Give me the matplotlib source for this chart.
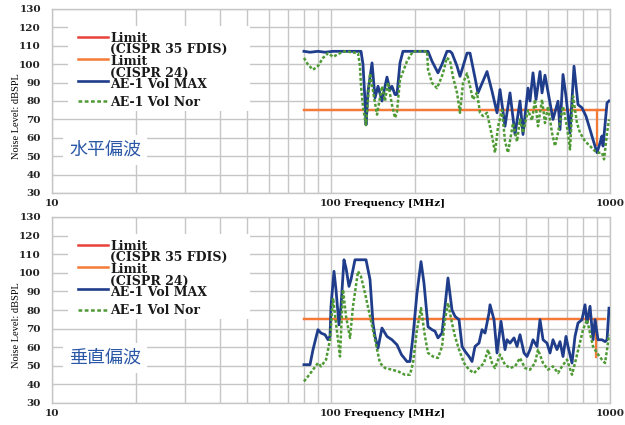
import matplotlib
matplotlib.use("Agg")
import matplotlib.pyplot as plt
from matplotlib.lines import Line2D
from matplotlib.patches import Rectangle
from matplotlib.ticker import FixedLocator, NullFormatter

# ---------------- data ----------------
# Top panel (水平偏波)
h_max_f = [80, 84.1, 89.8, 95.2, 101.7, 113.2, 125.0, 128.1, 130.2, 132.4, 133.5, 135.7,
           140.3, 143.8, 147.4, 152.3, 158.7, 162.7, 165.4, 169.6, 172.4, 176.7, 181.1,
           222.7, 230.2, 241.8, 250.0, 260.4, 267.0, 271.4, 282.9, 290.0, 307.3, 315.0,
           328.2, 336.4, 362.4, 377.7, 393.6, 403.4, 420.4, 438.1, 456.6, 475.8, 487.7,
           508.3, 516.8, 529.7, 543.0, 561.2, 570.6, 584.8, 609.5, 624.7, 651.1, 661.9,
           678.5, 695.5, 718.9, 743.0, 768.0, 793.8, 820.4, 848, 869.3, 898.5, 921,
           936, 944.2, 975.9, 991.8]
h_max_db = [107, 106.5, 107, 106.5, 107, 107, 107, 107, 100, 80, 67, 85,
            100.7, 81.7, 88, 80, 93, 86, 88, 83.5, 83.5, 100.7, 107,
            107, 101.6, 95.3, 100, 107, 107, 106, 99, 93.4, 106, 106,
            92.6, 84.4, 96, 85.3, 73.6, 86.2, 66.3, 84.4, 61.8, 80, 61.8,
            87, 80, 95.3, 80.8, 96, 84.4, 94, 79, 70, 79.9, 64.5,
            94.4, 82.6, 62.7, 98.9, 78, 76.3, 71.7, 64.5, 59, 51.9, 57.3,
            61, 55.5, 79, 80]

h_nor_f = [80, 82.7, 86.2, 89.8, 93.6, 97.6, 101.7, 107.7, 112.2, 125.0, 127.0, 128.1,
           130.2, 132.4, 133.5, 138.0, 146.2, 152.3, 156.1, 160, 165.4, 169.6, 172.4,
           176.7, 187.2, 196.7, 221, 222.7, 230.2, 239.8, 246, 252, 260, 267.0, 273.7,
           283, 290.0, 297.3, 307.3, 315.0, 322.8, 333.6, 342, 350.6, 362.4, 377.7,
           387.1, 396.8, 410.2, 420.4, 431.0, 449.1, 464.2, 475.8, 487.7, 508.3, 525.3,
           538.5, 552.0, 570.6, 584.8, 599.5, 619.6, 635.1, 651.1, 678.5, 701.3, 718.9,
           736.9, 761.7, 780.8, 813.7, 848, 883.8, 906, 936, 952, 975.9, 991.8]
h_nor_db = [103.4, 99.8, 97, 99, 103.4, 106, 104, 106, 107, 106, 99, 88,
            77, 70, 67, 95, 72.6, 88, 80, 90, 78, 70.8, 74,
            91.6, 101.6, 107, 107, 97, 89.8, 87, 91, 95, 103.5, 102, 93,
            84.4, 73.6, 89.8, 95, 88, 80.8, 84.5, 73.6, 71.8, 73.6, 60.9,
            51.9, 66, 75, 58.2, 51.9, 68, 58, 70, 62.7, 75, 69.5,
            80.8, 66.3, 80.8, 68, 77, 62.7, 55.5, 62.7, 77, 66, 53.7,
            82.6, 68, 62.7, 58.2, 55.5, 52.8, 51.9, 51.9, 48.3, 62.7, 70]

# Bottom panel (垂直偏波)
v_max_f = [80, 84.1, 86.2, 89.8, 92.1, 95.2, 97.6, 99.2, 100, 102.5, 104.2, 106.8,
           108.6, 111.3, 113.2, 116.0, 117.9, 121.9, 133.5, 138.0, 141.4, 143.8, 147.4,
           152.3, 158.7, 165.4, 172.4, 178.9, 187.2, 191.9, 196.7, 203.3, 210.2, 215.4,
           222.7, 230.2, 235.9, 241.8, 250.0, 256.2, 262.6, 271.4, 278.3, 287.6, 295,
           302.2, 312.4, 320.2, 328.2, 339.2, 347.8, 356.5, 368.4, 371.5, 383.9, 393.6,
           406.8, 420.4, 427.4, 438.1, 452.8, 464.2, 475.8, 491.8, 504.1, 516.8, 529.7,
           547.5, 561.2, 575.4, 594.6, 609.5, 624.7, 645.7, 661.9, 678.5, 695.5, 707.1,
           730.8, 749.2, 768.0, 793.8, 813.7, 827.2, 848, 869.3, 883.8, 906, 936,
           959.9, 975.9, 991.8]
v_max_db = [50.6, 50.6, 58.7, 69.4, 67.6, 66.7, 64, 66, 82, 100.8, 91, 72,
            82, 107, 102.6, 92.7, 96.3, 107, 107, 96.3, 73, 65.8, 59.5,
            70.3, 65.8, 64, 61.3, 56, 52.3, 52.3, 65.8, 89, 106, 94.5,
            71, 69.4, 68.6, 65, 67.6, 82, 97.2, 80, 76.6, 74.8, 60.4,
            57.8, 55, 52.3, 60.4, 62.2, 69.4, 67.6, 78.4, 82.8, 74.8, 56.9,
            73.9, 58.7, 64, 62.2, 65, 60.4, 66.7, 56.9, 55, 58.7, 64,
            60.4, 74.8, 64, 62.2, 56.9, 64, 58.7, 63, 55, 65.8, 60.4,
            51.5, 65.8, 73, 74.8, 82.8, 73, 82, 64, 74.8, 64, 64,
            63, 64, 81]

v_nor_f = [80, 82.7, 86.2, 89.8, 92.1, 96, 99.2, 101.7, 104.2, 107.7, 110.4, 113.2,
           117, 119.9, 125.0, 128.1, 132.4, 138.0, 143.8, 149.8, 156.1, 165.4, 173.8,
           184.1, 191.9, 196.7, 203.3, 210.2, 217.2, 222.7, 232.1, 241.8, 250.0, 256.2,
           262.6, 271.4, 278.3, 287.6, 299.7, 312.4, 325.5, 339.2, 353.5, 365.4, 377.7,
           387.1, 403.4, 420.4, 438.1, 456.6, 475.8, 495.9, 516.8, 538.5, 552.0, 575.4,
           599.5, 624.7, 651.1, 673, 701.3, 730.8, 749.2, 774.4, 800.3, 827.2, 848,
           869.3, 898.5, 936, 959.9, 975.9, 991.8]
v_nor_db = [41.6, 44.3, 47.9, 51.5, 49.7, 53.3, 64, 86.4, 73, 55, 91, 76.6,
            65, 82, 100.8, 98, 89, 76.6, 64, 51.5, 48.8, 47.9, 47,
            45.2, 45.2, 51.5, 69.4, 81, 65.8, 56.9, 55, 54.2, 60.4, 74.8,
            83.8, 73, 65.8, 58.7, 51.5, 47.9, 46.1, 48.8, 51.5, 58.7, 51.5,
            48.8, 56, 50.6, 48.8, 49.7, 54.2, 48.8, 47.9, 51.5, 58.7, 51.5,
            47.9, 49.7, 46.1, 49.7, 53.3, 45.2, 51.5, 60.4, 69.4, 74.8, 67.6,
            60.4, 56.9, 53.3, 51.5, 58.7, 66.7]

# Limit lines (CISPR 24 / CISPR 35 FDIS)
limit_f = [80, 960]
limit_db = [75, 75]
h_drop_f = [898.5, 898.5]
h_drop_db = [75, 56]
v_drop_f = [891, 891]
v_drop_db = [75, 55]

y_ticks = [30, 40, 50, 60, 70, 80, 90, 100, 110, 120, 130]
x_ticks = [10, 100, 1000]
legend_text_main = "Limit\n(CISPR 35 FDIS)\nLimit\n(CISPR 24)\nAE-1 Vol MAX"
legend_text_nor = "AE-1 Vol Nor"
panel_titles = ["水平偏波", "垂直偏波"]

# ---------------- style ----------------
C_RED = "#e8413a"
C_ORANGE = "#f47a35"
C_BLUE = "#1f3d8a"
C_GREEN = "#4f9a35"
GRID = "#c6c6c6"
TICKFONT = dict(family="DejaVu Serif", weight="bold", size=7.5)
LEGFONT = dict(family="DejaVu Serif", weight="bold", size=9, color="#1a1a1a")

W, H = 625, 425
fig = plt.figure(figsize=(W / 100, H / 100), dpi=100)
# axes boxes in pixels: left, top, right, bottom
boxes = [(52, 9, 610, 193), (52, 217, 610, 403)]
axes = []
for (l, t, r, b) in boxes:
    axes.append(fig.add_axes([l / W, 1 - b / H, (r - l) / W, (b - t) / H]))

panels = [
    (axes[0], boxes[0], h_max_f, h_max_db, h_nor_f, h_nor_db, h_drop_f, h_drop_db, panel_titles[0]),
    (axes[1], boxes[1], v_max_f, v_max_db, v_nor_f, v_nor_db, v_drop_f, v_drop_db, panel_titles[1]),
]

for ax, (l, t, r, b), mf, md, nf, nd, df, dd, title in panels:
    aw, ah = r - l, b - t

    def ax_x(px):
        return (px - l) / aw

    def ax_y(rel):  # rel = pixels below the axes top
        return 1 - rel / ah

    ax.set_xscale("log")
    ax.set_xlim(10, 1000)
    ax.set_ylim(30, 130)
    ax.set_yticks(y_ticks)
    ax.set_yticklabels([str(v) for v in y_ticks], fontdict=TICKFONT)
    ax.xaxis.set_major_locator(FixedLocator(x_ticks))
    ax.set_xticklabels([str(v) for v in x_ticks], fontdict=TICKFONT)
    ax.xaxis.set_minor_locator(FixedLocator([m * d for d in (10, 100) for m in range(2, 10)]))
    ax.xaxis.set_minor_formatter(NullFormatter())
    ax.tick_params(axis="y", which="both", length=0, pad=8, colors="#222222")
    ax.tick_params(axis="x", which="both", length=0, pad=4, colors="#222222")
    ax.grid(True, which="both", axis="x", color=GRID, lw=1.0)
    ax.grid(True, which="major", axis="y", color=GRID, lw=1.0)
    ax.set_axisbelow(True)
    for s in ax.spines.values():
        s.set_color(GRID)
        s.set_linewidth(1.0)

    ax.plot(limit_f, limit_db, color=C_RED, lw=1.6, zorder=2)
    ax.plot(limit_f, limit_db, color=C_ORANGE, lw=1.6, zorder=3)
    ax.plot(df, dd, color=C_ORANGE, lw=1.6, zorder=3)
    ax.plot(mf, md, color=C_BLUE, lw=2.0, zorder=5)
    ax.plot(nf, nd, color=C_GREEN, lw=1.8, linestyle=(0, (1.2, 0.8)), zorder=6)

    ax.set_xlabel("Frequency [MHz]", fontdict=TICKFONT, ha="left")
    ax.xaxis.set_label_coords(ax_x(344), -0.03)
    ax.xaxis.label.set_va("top")
    ax.set_ylabel("Noise Level: dBSPL", family="Liberation Serif", size=7.5)
    ax.yaxis.set_label_coords(ax_x(21), 0.42)

    # Chinese polarisation label
    ax.text(ax_x(105), ax_y(141), title, transform=ax.transAxes,
            ha="center", va="center", fontsize=13, color="#2a57a6",
            family=["Noto Sans CJK JP", "DejaVu Sans"],
            bbox=dict(facecolor="white", edgecolor="none", boxstyle="square,pad=0.35"),
            zorder=7)

    # legend (drawn by hand to match the original layout)
    ax.add_patch(Rectangle((ax_x(68), ax_y(102)), ax_x(250) - ax_x(68), (102 - 17) / ah,
                           transform=ax.transAxes, facecolor="white", edgecolor="none",
                           zorder=7))
    ax.text(ax_x(110), ax_y(22.5), legend_text_main, transform=ax.transAxes, ha="left",
            va="top", linespacing=0.87, zorder=8, **LEGFONT)
    ax.text(ax_x(110), ax_y(97), legend_text_nor, transform=ax.transAxes, ha="left",
            va="baseline", zorder=8, **LEGFONT)
    handle_styles = [
        (27.5, dict(color=C_RED, lw=1.8)),
        (49.5, dict(color=C_ORANGE, lw=1.8)),
        (71.5, dict(color=C_BLUE, lw=1.9)),
        (92.5, dict(color=C_GREEN, lw=1.8, linestyle=(0, (1.5, 1.0)))),
    ]
    for rel, st in handle_styles:
        yy = ax_y(rel)
        ax.add_line(Line2D([ax_x(78), ax_x(108)], [yy, yy], transform=ax.transAxes,
                           zorder=8, clip_on=False, **st))

fig.savefig("out.png", dpi=100, facecolor="white")
